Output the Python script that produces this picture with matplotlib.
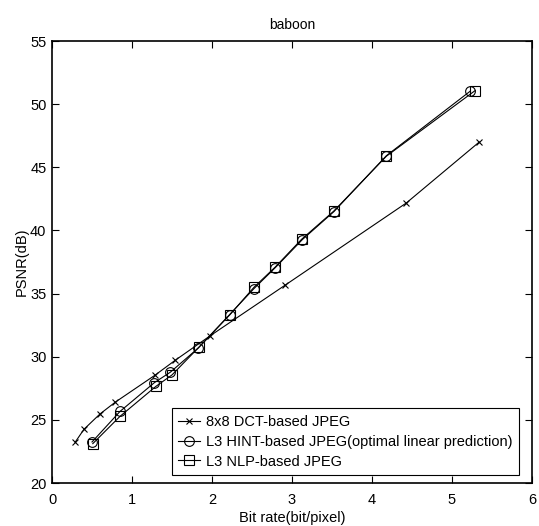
import matplotlib.pyplot as plt

plt.rcParams['font.family'] = ['Liberation Sans', 'DejaVu Sans']
plt.rcParams['font.size'] = 10.5

# 8x8 DCT-based JPEG
dct_rate = [0.29, 0.40, 0.60, 0.79, 1.29, 1.54, 1.975, 2.91, 4.43, 5.34]
dct_psnr = [23.24, 24.26, 25.47, 26.40, 28.55, 29.72, 31.65, 35.65, 42.18, 47.0]

# L3 HINT-based JPEG (optimal linear prediction)
hint_rate = [0.50, 0.85, 1.28, 1.48, 1.83, 2.22, 2.525, 2.79, 3.13, 3.525, 4.18, 5.23]
hint_psnr = [23.25, 25.67, 27.95, 28.78, 30.70, 33.34, 35.40, 37.05, 39.28, 41.50, 45.92, 51.04]

# L3 NLP-based JPEG
nlp_rate = [0.51, 0.85, 1.30, 1.50, 1.84, 2.22, 2.525, 2.79, 3.12, 3.52, 4.18, 5.29]
nlp_psnr = [23.12, 25.28, 27.66, 28.56, 30.78, 33.30, 35.50, 37.10, 39.30, 41.52, 45.88, 51.08]

fig = plt.figure(figsize=(5.39, 5.26), dpi=100)
ax = fig.add_axes([0.0965, 0.0817, 0.8905, 0.8403])

ax.plot(dct_rate, dct_psnr, color='k', lw=0.8, marker='x', ms=4.5, mew=0.8,
        label='8x8 DCT-based JPEG')
ax.plot(hint_rate, hint_psnr, color='k', lw=0.8, marker='o', ms=7, mew=0.8,
        mfc='none', label='L3 HINT-based JPEG(optimal linear prediction)')
ax.plot(nlp_rate, nlp_psnr, color='k', lw=0.8, marker='s', ms=6.5, mew=0.8,
        mfc='none', label='L3 NLP-based JPEG')

ax.set_xlim(0, 6)
ax.set_ylim(20, 55)
ax.set_xticks(range(0, 7))
ax.set_yticks(range(20, 56, 5))
ax.tick_params(direction='in', top=True, right=True, length=5, width=0.8)
ax.tick_params(axis='x', pad=7)
ax.tick_params(axis='y', pad=4)
for s in ax.spines.values():
    s.set_linewidth(1.2)

ax.set_title('baboon', fontsize=10, pad=9)
ax.set_xlabel('Bit rate(bit/pixel)', labelpad=3)
ax.set_ylabel('PSNR(dB)', labelpad=1)

leg = ax.legend(loc='lower right', bbox_to_anchor=(0.973, 0.018), fancybox=False,
                edgecolor='k', framealpha=1, handlelength=1.5, borderpad=0.45,
                labelspacing=0.4, handletextpad=0.4, borderaxespad=0)
leg.get_frame().set_linewidth(0.8)

fig.savefig('out.png', dpi=100)
